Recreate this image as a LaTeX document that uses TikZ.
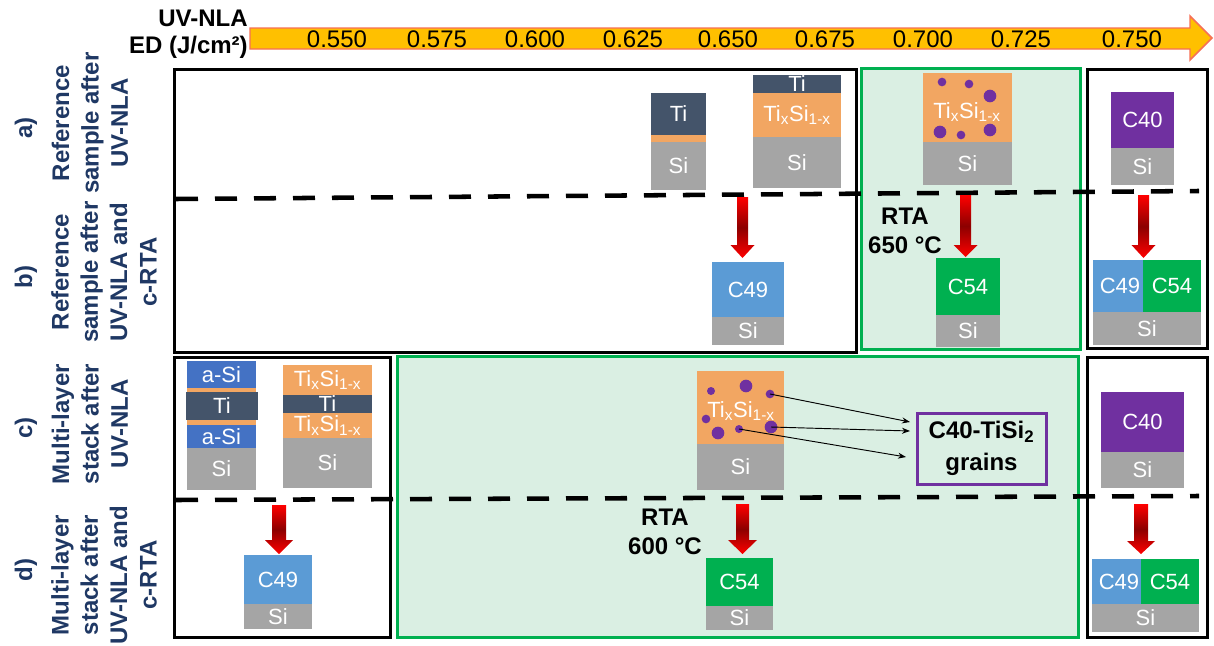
\documentclass[tikz,border=0pt]{standalone}
\usepackage{fontspec}
\setmainfont{Liberation Sans}
\usetikzlibrary{arrows.meta}
\definecolor{navy}{RGB}{31,56,100}
\definecolor{tiC}{RGB}{68,84,106}
\definecolor{orC}{RGB}{242,166,98}
\definecolor{siC}{RGB}{165,165,165}
\definecolor{cfn}{RGB}{91,155,213}
\definecolor{cff}{RGB}{0,176,80}
\definecolor{cfz}{RGB}{112,48,160}
\definecolor{asiC}{RGB}{68,114,196}
\definecolor{gfill}{RGB}{218,239,227}
\definecolor{gline}{RGB}{0,176,80}
\definecolor{arrY}{RGB}{255,192,0}
\definecolor{arrR}{RGB}{246,112,86}
\definecolor{dred}{RGB}{140,0,0}
\newcommand\fBig{\fontsize{18}{22}\selectfont}
\newcommand\fMid{\fontsize{16.5}{19}\selectfont}
\newcommand\lyr[7]{\fill[#6] (#2,#3) rectangle (#4,#5); \node[lt] (#1) at ({(#2+#4)/2},{(#3+#5)/2}) {#7};}
\newcommand\redarr[6]{\shade[top color=red, bottom color=red, middle color=dred] ({#1-#2},#4) -- ({#1+#2},#4) -- ({#1+#2},#5) -- ({#1+#3},#5) -- (#1,#6) -- ({#1-#3},#5) -- ({#1-#2},#5) -- cycle;}
\newcommand\txs{Ti\textsubscript{x}Si\textsubscript{1-x}}
\tikzset{
  lt/.style={text=white, font=\fMid, inner sep=0pt},
  rowlbl/.style={text=navy, font=\fBig\bfseries, rotate=90, align=center, inner sep=0pt},
  blackbox/.style={draw=black, line width=2.25pt},
  greenbox/.style={draw=gline, fill=gfill, line width=2.25pt},
  dashline/.style={draw=black, line width=3.4pt, dash pattern=on 16.5pt off 12.75pt},
  dot/.style={circle, fill=cfz, inner sep=0pt},
  num/.style={font=\fBig, inner sep=0pt},
  bold/.style={font=\fBig\bfseries, align=center, inner sep=0pt},
  thinarr/.style={draw=black, line width=0.7pt, -{Stealth[length=6pt,width=4.5pt]}}
}
\begin{document}
\begin{tikzpicture}[x=0.75pt,y=-0.75pt]
\useasboundingbox (0,0) rectangle (1214,646);
\fill[white] (0,0) rectangle (1214,646);

% top scale arrow
\draw[fill=arrY, draw=arrR, line width=1.1pt] (250,28) -- (1190,28) -- (1190,16) -- (1212,38) -- (1190,60) -- (1190,49) -- (250,49) -- cycle;
\node[bold, anchor=east] (t1) at (248,18) {UV-NLA};
\node[bold, anchor=east] (t2) at (248,47) {ED (J/cm²)};
\node[num] (n1) at (337,39) {0.550};
\node[num] (n2) at (437,39) {0.575};
\node[num] (n3) at (535,39) {0.600};
\node[num] (n4) at (633,39) {0.625};
\node[num] (n5) at (728,39) {0.650};
\node[num] (n6) at (825,39) {0.675};
\node[num] (n7) at (923,39) {0.700};
\node[num] (n8) at (1021,39) {0.725};
\node[num] (n9) at (1132,39) {0.750};

% row labels
\node[rowlbl] (pa) at (26,128) {a)};
\node[rowlbl] (pb) at (26,277) {b)};
\node[rowlbl] (pc) at (26,428) {c)};
\node[rowlbl] (pd) at (26,570) {d)};
\node[rowlbl] (la) at (90,123) {Reference\\sample after\\UV-NLA};
\node[rowlbl] (lb) at (104,272) {Reference\\sample after\\UV-NLA and\\c-RTA};
\node[rowlbl] (lc) at (90,424) {Multi-layer\\stack after\\UV-NLA};
\node[rowlbl] (ld) at (104,575) {Multi-layer\\stack after\\UV-NLA and\\c-RTA};

% boxes
\draw[greenbox] (861,68) rectangle (1080,349);
\draw[greenbox] (397,356) rectangle (1078,637);
\draw[blackbox] (174,69) rectangle (856,352);
\draw[blackbox] (1087,69) rectangle (1207,348);
\draw[blackbox] (174,357) rectangle (390,637);
\draw[blackbox] (1087,357) rectangle (1207,637);

% dashed lines
\coordinate (da1) at (176,199);
\coordinate (da2) at (1199,191);
\coordinate (dc1) at (176,500);
\coordinate (dc2) at (1199,496);
\draw[dashline] (da1) -- (da2);
\draw[dashline] (dc1) -- (dc2);

% ---- box 1 (a/b, low ED)
\lyr{a1ti}{651}{93}{706}{135}{tiC}{Ti}
\lyr{a1or}{651}{135}{706}{142}{orC}{}
\lyr{a1si}{651}{142}{706}{190}{siC}{Si}
\lyr{a2ti}{753}{75}{841}{93}{tiC}{Ti}
\lyr{a2ts}{753}{93}{841}{137}{orC}{\txs}
\lyr{a2si}{753}{137}{841}{188}{siC}{Si}
\lyr{b1c}{712}{262}{784}{317}{cfn}{C49}
\lyr{b1si}{712}{317}{784}{345}{siC}{Si}
\redarr{742.5}{5.5}{12}{197}{245}{258}

% ---- box 2 (green, a/b)
\lyr{a3ts}{923}{73}{1012}{142}{orC}{}
\node[lt] (a3tx) at (967,112) {\txs};
\lyr{a3si}{923}{142}{1012}{185}{siC}{Si}
\node[dot, minimum size=6.5pt] (g1) at (942,82) {};
\node[dot, minimum size=6.5pt] (g2) at (969,84) {};
\node[dot, minimum size=9.5pt] (g3) at (990,96) {};
\node[dot, minimum size=9.5pt] (g4) at (940,132) {};
\node[dot, minimum size=6.5pt] (g5) at (961,135) {};
\node[dot, minimum size=9.5pt] (g6) at (990,130) {};
\redarr{965.5}{5.5}{12}{195}{245}{257}
\node[bold] (rta1) at (905,231) {RTA\\650 °C};
\lyr{b2c}{936}{258}{1000}{315}{cff}{C54}
\lyr{b2si}{936}{315}{1000}{347}{siC}{Si}

% ---- box 3 (a/b, high ED)
\lyr{a4c}{1111}{92}{1174}{148}{cfz}{C40}
\lyr{a4si}{1111}{148}{1174}{185}{siC}{Si}
\redarr{1143.5}{5.5}{12}{195}{245}{258}
\lyr{b3a}{1093}{260}{1143}{312}{cfn}{}
\lyr{b3b}{1143}{260}{1201}{312}{cff}{}
\node[lt] (b3at) at (1120,286) {C49};
\node[lt] (b3bt) at (1172,286) {C54};
\lyr{b3si}{1093}{312}{1201}{345}{siC}{Si}

% ---- box 4 (c/d, low ED)
\lyr{c1a}{187}{361}{256}{388}{asiC}{a-Si}
\lyr{c1o}{187}{388}{256}{392}{orC}{}
\lyr{c1t}{186}{392}{258}{420}{tiC}{Ti}
\lyr{c1p}{187}{420}{256}{425}{orC}{}
\lyr{c1b}{187}{425}{256}{448}{asiC}{a-Si}
\lyr{c1s}{187}{448}{256}{490}{siC}{Si}
\lyr{c2a}{283}{365}{372}{395}{orC}{\txs}
\lyr{c2t}{283}{395}{372}{413}{tiC}{Ti}
\lyr{c2b}{283}{413}{372}{438}{orC}{\txs}
\lyr{c2s}{283}{438}{372}{488}{siC}{Si}
\redarr{279}{7}{14}{505}{540}{554}
\lyr{d1c}{244}{555}{312}{604}{cfn}{C49}
\lyr{d1s}{244}{604}{312}{629}{siC}{Si}

% ---- box 5 (green, c/d)
\lyr{c3ts}{697}{371}{784}{444}{orC}{}
\node[lt] (c3tx) at (741,411) {\txs};
\lyr{c3si}{697}{444}{784}{490}{siC}{Si}
\node[dot, minimum size=6pt] (h1) at (711,391) {};
\node[dot, minimum size=9.5pt] (h2) at (746,386) {};
\node[dot, minimum size=6.5pt] (h3) at (770,394) {};
\node[dot, minimum size=6.5pt] (h4) at (706,419) {};
\node[dot, minimum size=9.5pt] (h5) at (718,433) {};
\node[dot, minimum size=6pt] (h6) at (739,429) {};
\node[dot, minimum size=9.5pt] (h7) at (771,427) {};
\node[draw=cfz, line width=2.25pt, minimum width=96.75pt, minimum height=53.25pt, font=\fBig\bfseries, align=center, inner sep=0pt] (grains) at (981.5,448.5) {C40-TiSi\textsubscript{2}\\[2pt]grains};
\coordinate (e1) at (910,422);
\coordinate (e2) at (910,431);
\coordinate (e3) at (906,457);
\draw[thinarr] (h3.center) -- (e1);
\draw[thinarr] (h7.center) -- (e2);
\draw[thinarr] (h6.center) -- (e3);
\redarr{742.5}{6.5}{14.5}{504}{540}{554}
\node[bold] (rta2) at (665,532) {RTA\\600 °C};
\lyr{d2c}{706}{558}{773}{606}{cff}{C54}
\lyr{d2s}{706}{606}{773}{630}{siC}{Si}

% ---- box 6 (c/d, high ED)
\lyr{c4c}{1101}{392}{1184}{452}{cfz}{C40}
\lyr{c4s}{1101}{452}{1184}{488}{siC}{Si}
\redarr{1141}{7}{14}{504}{541}{554}
\lyr{d3a}{1092}{559}{1141}{604}{cfn}{}
\lyr{d3b}{1141}{559}{1199}{604}{cff}{}
\node[lt] (d3at) at (1119,582) {C49};
\node[lt] (d3bt) at (1170,582) {C54};
\lyr{d3s}{1092}{604}{1199}{632}{siC}{Si}
\end{tikzpicture}
\end{document}
